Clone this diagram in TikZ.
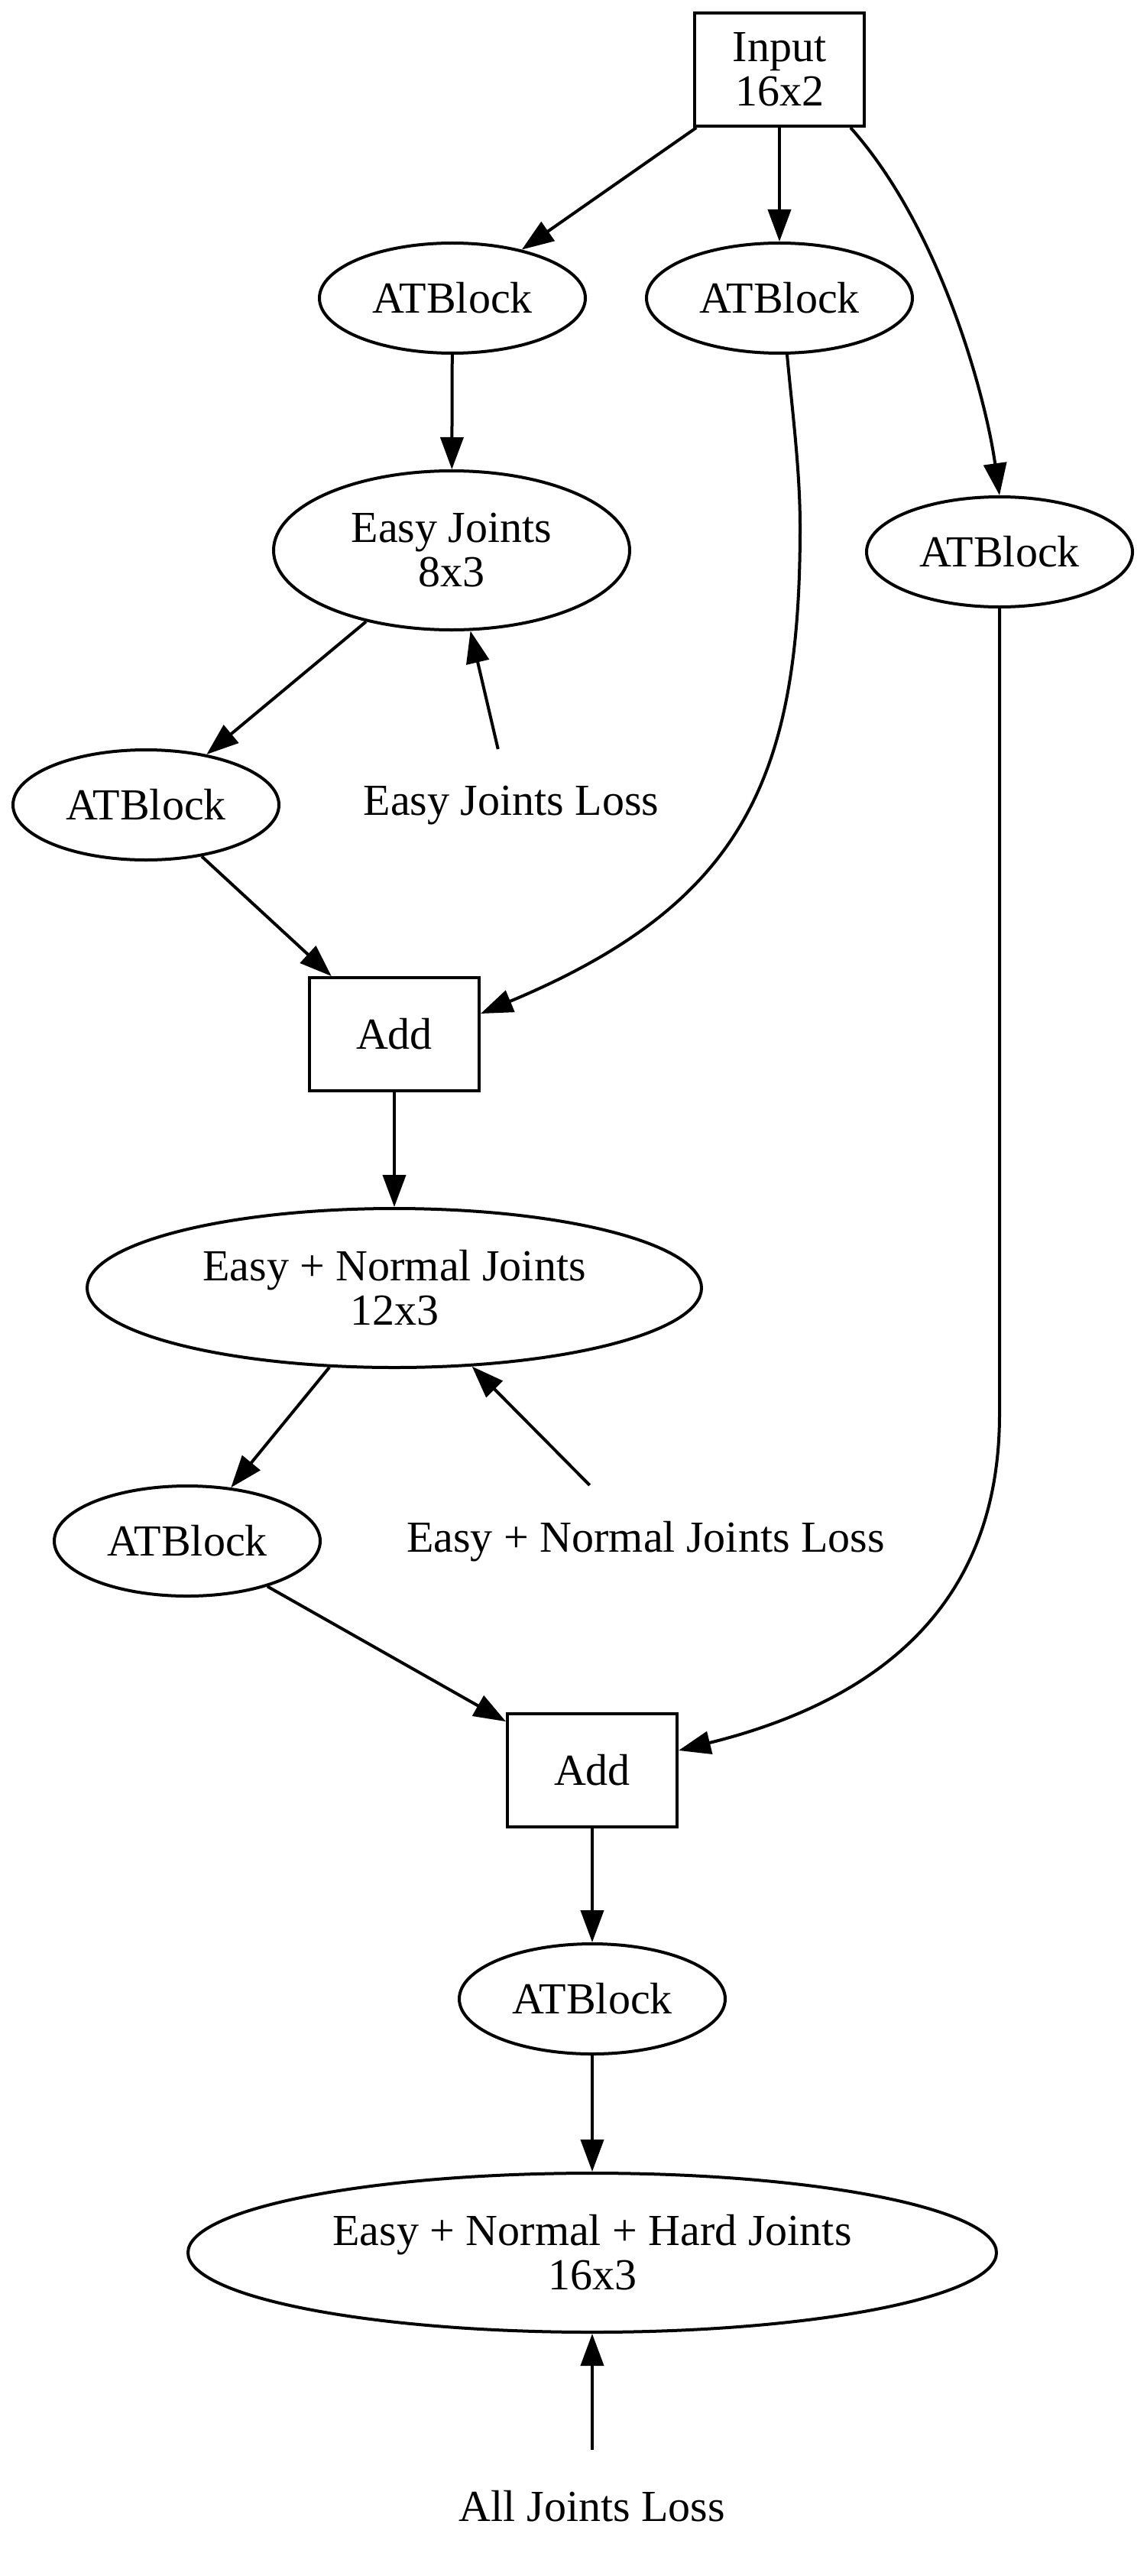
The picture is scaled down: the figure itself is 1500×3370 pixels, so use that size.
\documentclass[tikz,border=0pt]{standalone}
\usepackage{fontspec}
\setmainfont{Liberation Serif}
\usetikzlibrary{arrows.meta,shapes.geometric}
\begin{document}
\begin{tikzpicture}[x=0.25pt,y=-0.25pt,
  every node/.style={font=\fontsize{14.5}{14.5}\selectfont, align=center, inner sep=0pt, line width=1pt},
  boxn/.style={draw, rectangle, minimum width=55.5pt, minimum height=37pt},
  blk/.style={draw, ellipse, minimum width=87pt, minimum height=36pt},
  ell/.style={draw, ellipse, minimum height=52pt},
  txt/.style={rectangle, minimum height=36pt},
  edge/.style={line width=1pt, -{Triangle[length=10.5pt,width=7.5pt]}}]
\useasboundingbox (0,0) rectangle (1500,3370);

\node[boxn] (inp) at (1020,91) {Input\\16x2};
\node[blk] (atb1) at (592,390) {ATBlock};
\node[blk] (atb2) at (1020,390) {ATBlock};
\node[blk] (atb3) at (1308,722) {ATBlock};
\node[ell, minimum width=116.5pt] (ej) at (591,720) {Easy Joints\\8x3};
\node[blk] (atb4) at (191,1053) {ATBlock};
\node[txt] (ejl) at (669,1054) {Easy Joints Loss};
\node[boxn] (add1) at (516,1353) {Add};
\node[ell, minimum width=201pt] (enj) at (516,1685) {Easy + Normal Joints\\12x3};
\node[blk] (atb5) at (245,2016) {ATBlock};
\node[txt] (enjl) at (845,2017) {Easy + Normal Joints Loss};
\node[boxn] (add2) at (775,2316) {Add};
\node[blk] (atb6) at (775,2615) {ATBlock};
\node[ell, minimum width=264.5pt] (enh) at (775,2947) {Easy + Normal + Hard Joints\\16x3};
\node[txt] (ajl) at (775,3279) {All Joints Loss};

\draw[edge] (inp) -- (atb1);
\draw[edge] (inp) -- (atb2);
\draw[edge] ([xshift=-5pt]inp.south east) .. controls (1231,299) and (1290,520) .. (atb3.north);
\draw[edge] (atb1) -- (ej);
\draw[edge] (ej) -- (atb4);
\draw[edge] (ejl) -- (ej);
\draw[edge] (atb4) -- (add1);
\draw[edge] ([xshift=2.5pt]atb2.south) .. controls (1037,540) and (1047,615) .. (1047,690)
  .. controls (1047,1020) and (971,1183) .. ([yshift=6.75pt]add1.east);
\draw[edge] (add1) -- (enj);
\draw[edge] (enj) -- (atb5);
\draw[edge] (enjl) -- (enj);
\draw[edge] (atb5) -- (add2);
\draw[edge] (atb3.south) -- (1308,1850) .. controls (1308,2100) and (1150,2225) .. ([yshift=6.5pt]add2.east);
\draw[edge] (add2) -- (atb6);
\draw[edge] (atb6) -- (enh);
\draw[edge] (ajl) -- (enh);
\end{tikzpicture}
\end{document}
